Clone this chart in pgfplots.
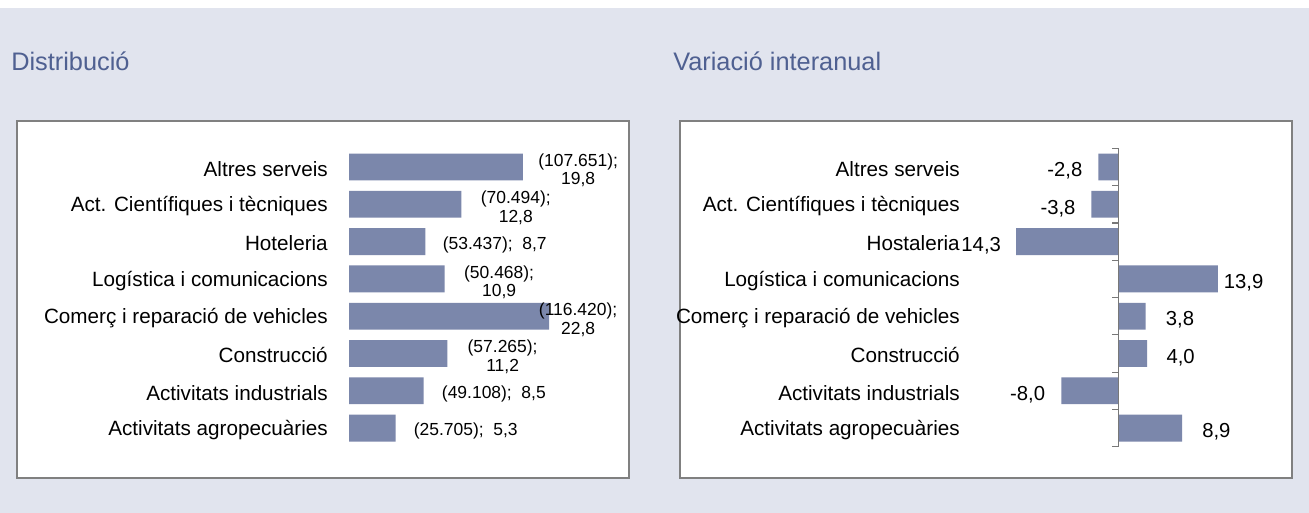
\documentclass[border=0pt]{standalone}
\usepackage{fontspec}
\setmainfont{Liberation Sans}
\usepackage{pgfplots}
\pgfplotsset{compat=1.18}
\definecolor{bgc}{RGB}{225,228,238}
\definecolor{barc}{RGB}{123,135,171}
\definecolor{titc}{RGB}{79,96,145}
\definecolor{boxc}{RGB}{128,128,128}
\definecolor{axc}{RGB}{120,120,120}
\tikzset{
  labA/.style={anchor=center, inner sep=0pt, align=center, yshift=-2.5pt, font=\fontsize{13.1}{14}\selectfont},
  labB/.style={anchor=center, inner sep=0pt, yshift=-3pt, font=\fontsize{15.2}{18}\selectfont},
}
\begin{document}
\begin{tikzpicture}[x=0.75pt,y=0.75pt]
\fill[white] (0,0) rectangle (1309,513);
\fill[bgc] (0,0) rectangle (1309,505);
\filldraw[fill=white,draw=boxc,line width=1.5pt] (17,35) rectangle (629,392);
\filldraw[fill=white,draw=boxc,line width=1.5pt] (680,35) rectangle (1292,392);
\node[anchor=base west,inner sep=0pt,text=titc,font=\fontsize{19}{22}\selectfont] at (11,442) {Distribució};
\node[anchor=base west,inner sep=0pt,text=titc,font=\fontsize{19}{22}\selectfont] at (673,442) {Variació interanual};

% left panel
\begin{axis}[
  at={(261.75pt,49.7pt)}, anchor=south west,
  scale only axis, width=164.6pt, height=223.8pt,
  xmin=0, xmax=25, ymin=-0.5, ymax=7.5, y dir=reverse,
  clip=false,
  axis line style={draw=none},
  xtick=\empty, ytick={0,...,7}, major tick length=0pt,
  yticklabels={Altres serveis,Act. Científiques i tècniques,Hoteleria,Logística i comunicacions,Comerç i reparació de vehicles,Construcció,Activitats industrials,Activitats agropecuàries},
  yticklabel style={inner sep=0pt, xshift=-15.75pt, yshift=-1.5pt, font=\fontsize{15.5}{18}\selectfont},
]
\addplot[xbar, bar width=0.72, fill=barc, draw=none] coordinates {
 (19.8,0) (12.8,1) (8.7,2) (10.9,3) (22.8,4) (11.2,5) (8.5,6) (5.3,7)};
\node[labA] at (axis cs:26.1,0) {(107.651);\\19,8};
\node[labA] at (axis cs:19.0,1) {(70.494);\\12,8};
\node[labA] at (axis cs:16.6,2) {(53.437);\hspace{0.55em}8,7};
\node[labA] at (axis cs:17.1,3) {(50.468);\\10,9};
\node[labA] at (axis cs:26.1,4) {(116.420);\\22,8};
\node[labA] at (axis cs:17.5,5) {(57.265);\\11,2};
\node[labA] at (axis cs:16.5,6) {(49.108);\hspace{0.55em}8,5};
\node[labA] at (axis cs:13.3,7) {(25.705);\hspace{0.55em}5,3};
\end{axis}

% right panel
\begin{axis}[
  at={(731.6pt,49.7pt)}, anchor=south west,
  scale only axis, width=214.5pt, height=223.8pt,
  xmin=-20, xmax=20, ymin=-0.5, ymax=7.5, y dir=reverse,
  clip=false,
  axis line style={draw=none},
  xtick=\empty, ytick={0,...,7}, major tick length=0pt,
  yticklabels={Altres serveis,Act. Científiques i tècniques,Hostaleria,Logística i comunicacions,Comerç i reparació de vehicles,Construcció,Activitats industrials,Activitats agropecuàries},
  yticklabel style={inner sep=0pt, xshift=-11.6pt, yshift=-1.5pt, font=\fontsize{15.5}{18}\selectfont},
]
\addplot[xbar, bar width=0.72, fill=barc, draw=none] coordinates {
 (-2.8,0) (-3.8,1) (-14.3,2) (13.9,3) (3.8,4) (4.0,5) (-8.0,6) (8.9,7)};
\draw[axc, line width=0.9pt] (axis cs:0,-0.5) -- (axis cs:0,7.5)
  (axis cs:0,-0.5) -- (axis cs:-0.84,-0.5)
  (axis cs:0,0.5) -- (axis cs:-0.84,0.5)
  (axis cs:0,1.5) -- (axis cs:-0.84,1.5)
  (axis cs:0,2.5) -- (axis cs:-0.84,2.5)
  (axis cs:0,3.5) -- (axis cs:-0.84,3.5)
  (axis cs:0,4.5) -- (axis cs:-0.84,4.5)
  (axis cs:0,5.5) -- (axis cs:-0.84,5.5)
  (axis cs:0,6.5) -- (axis cs:-0.84,6.5)
  (axis cs:0,7.5) -- (axis cs:-0.84,7.5);
\node[labB] at (axis cs:-7.5,0) {-2,8};
\node[labB] at (axis cs:-8.45,1) {-3,8};
\node[labB] at (axis cs:-19.2,2) {14,3};
\node[labB] at (axis cs:17.5,3) {13,9};
\node[labB] at (axis cs:8.6,4) {3,8};
\node[labB] at (axis cs:8.7,5) {4,0};
\node[labB] at (axis cs:-12.7,6) {-8,0};
\node[labB] at (axis cs:13.7,7) {8,9};
\end{axis}
\end{tikzpicture}
\end{document}
